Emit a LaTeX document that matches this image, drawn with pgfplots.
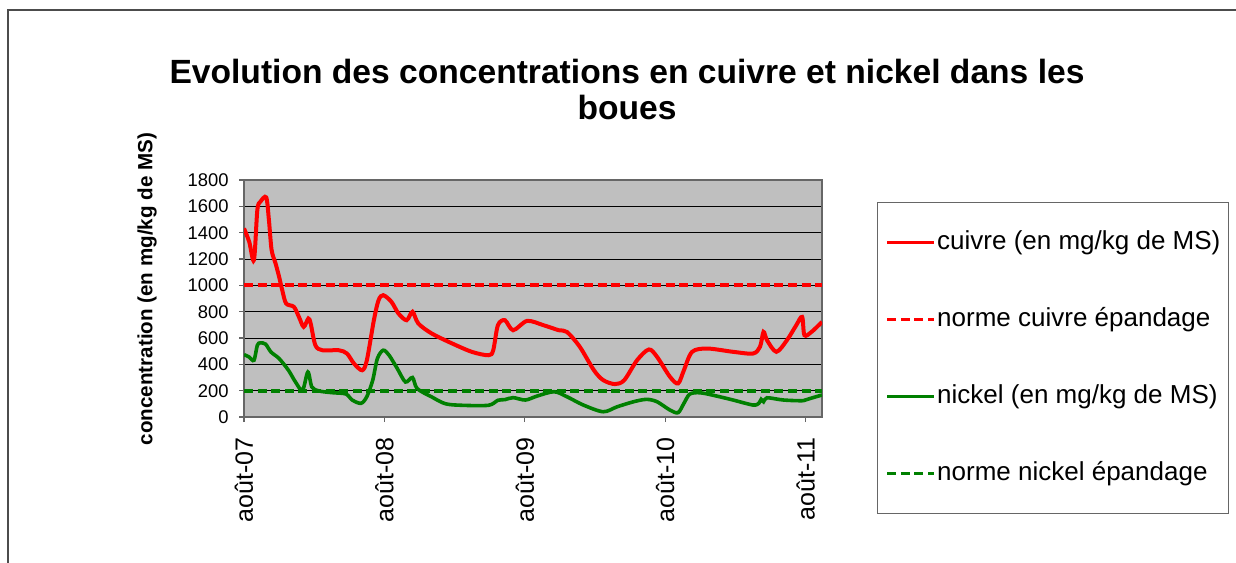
\documentclass[border=0pt]{standalone}
\usepackage{pgfplots}
\pgfplotsset{compat=1.18}
\usepackage{fontspec}
\setmainfont{Liberation Sans}
\definecolor{xlgreen}{RGB}{0,128,0}
\definecolor{xlred}{RGB}{255,0,0}
\pgfplotsset{
  shortleg/.style={legend image code/.code={\draw[##1,line width=1.6pt] (0pt,0pt) -- (23.5pt,0pt); \path (24pt,0pt);}}
}
\pgfplotstableread{
m v
0 1432
0.45 1330
0.85 1192
1.14 1572
1.4 1635
1.9 1668
2.13 1496
2.36 1268
2.7 1166
3.0 1065
3.27 963
3.6 862
4.26 837
4.69 761
5.1 685
5.5 748
5.7 710
6.1 545
6.7 507
8.1 507
8.8 482
9.4 406
10.1 355
10.5 431
11.1 735
11.5 887
11.9 925
12.6 875
13.2 786
13.9 735
14.4 799
14.9 710
16.05 634
17.8 558
19.5 494
20.9 469
21.3 507
21.7 697
22.3 735
23.0 659
24.2 730
25.6 697
26.9 659
27.6 646
28.7 533
29.9 356
30.7 280
31.7 250
32.5 280
33.6 432
34.6 513
35.3 457
36.4 306
37.1 255
37.6 356
38.3 495
39.6 520
41.8 495
43.5 482
44.1 533
44.4 646
44.7 583
45.5 495
46.4 583
47.2 697
47.7 760
47.9 621
48.5 646
49.4 722
}\cuivre
\pgfplotstableread{
m v
0 474
0.43 456
0.85 431
1.14 545
1.4 563
1.85 553
2.3 494
3.0 444
3.8 355
4.4 266
5.0 203
5.46 342
5.8 228
6.4 198
7.5 185
8.7 175
9.25 129
10.0 104
10.5 155
11.0 279
11.4 444
11.9 507
12.4 469
13.1 368
13.8 266
14.4 300
14.8 216
16.05 152
17.2 101
18.6 89
20.9 89
21.7 127
22.3 132
23.0 147
24.05 129
25.05 159
26.5 192
27.6 154
29.0 91
30.7 40
31.9 78
33.3 116
34.4 134
35.3 116
36.4 53
37.1 33
37.6 104
38.1 174
39.0 184
40.4 159
41.8 129
43.5 91
44.0 104
44.2 134
44.4 116
44.7 146
46.1 129
47.8 124
48.4 141
49.4 167
}\nickel
\begin{document}
\begin{tikzpicture}
\useasboundingbox (0,0) rectangle (618pt,281pt);
\draw[black!70,line width=0.7pt] (4pt,-1pt) -- (4pt,276pt) -- (619pt,276pt);
\node[font=\bfseries\fontsize{16.8}{18}\selectfont, align=center] at (313.5pt,236.5pt) {Evolution des concentrations en cuivre et nickel dans les\\boues};
\node[font=\bfseries\fontsize{10.3}{12}\selectfont, rotate=90] at (73.5pt,136.5pt) {concentration (en mg/kg de MS)};
\begin{axis}[
  at={(122pt,72.5pt)}, anchor=south west,
  width=289pt, height=118.5pt, scale only axis,
  xmin=0, xmax=49.4, ymin=0, ymax=1800,
  xtick={0,12,24,36,48},
  xticklabels={août-07,août-08,août-09,août-10,août-11},
  ytick={0,200,...,1800},
  ymajorgrids, major grid style={black, line width=0.5pt},
  axis background/.style={fill=black!25},
  axis line style={black!60, line width=0.6pt},
  tick align=outside, major tick length=2.5pt,
  tick style={black!60, line width=0.6pt},
  xtick pos=left, ytick pos=left,
  x tick label style={rotate=90, anchor=east, font=\fontsize{12.5}{14}\selectfont, inner sep=0pt},
  y tick label style={font=\fontsize{9.2}{11}\selectfont, inner sep=0pt},
  /pgf/number format/1000 sep={}, /pgf/number format/assume math mode=true,
  xticklabel shift=7.5pt, yticklabel shift=5pt,
  shortleg,
  legend cell align=left,
  legend style={at={(1.0952,0.907)}, anchor=north west, draw=black!60, line width=0.6pt, fill=white,
    inner xsep=4pt, inner ysep=14pt, row sep=26.5pt,
    font=\fontsize{13}{15}\selectfont,
    nodes={inner sep=0pt, text height=9.3pt, text depth=2.7pt}},
]
\addplot[xlred, line width=2pt, smooth] table[x=m,y=v] {\cuivre};
\addlegendentry{cuivre (en mg/kg de MS)}
\addplot[xlred, line width=2pt, dash pattern=on 4.5pt off 2.3pt] coordinates {(0,1000) (49.4,1000)};
\addlegendentry{norme cuivre épandage}
\addplot[xlgreen, line width=1.8pt, smooth] table[x=m,y=v] {\nickel};
\addlegendentry{nickel (en mg/kg de MS)}
\addplot[xlgreen, line width=2pt, dash pattern=on 4.5pt off 2.3pt] coordinates {(0,200) (49.4,200)};
\addlegendentry{norme nickel épandage}
\end{axis}
\end{tikzpicture}
\end{document}
